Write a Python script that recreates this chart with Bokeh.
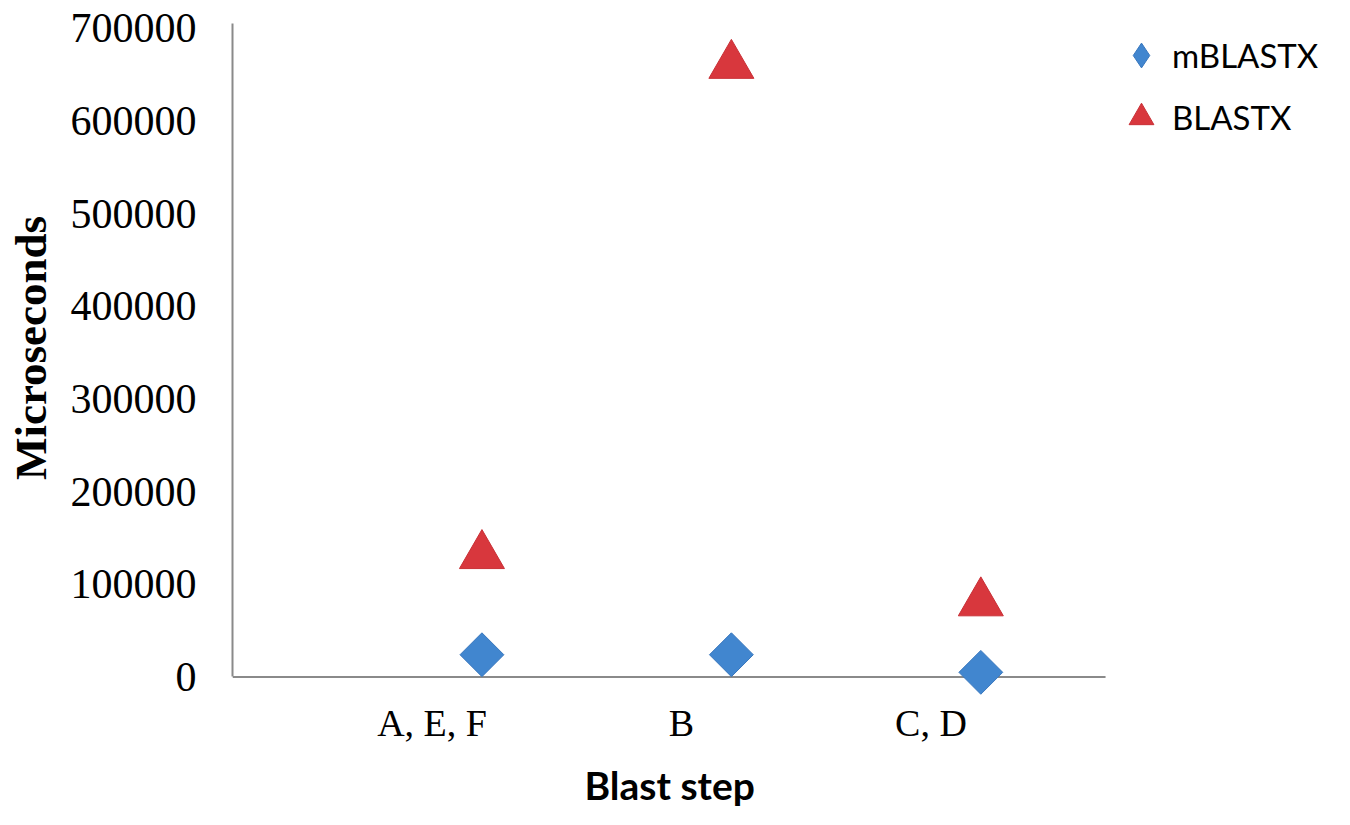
import numpy as np
from bokeh.plotting import figure
from bokeh.models import Range1d, FixedTicker, BasicTickFormatter, Legend, LegendItem, ColumnDataSource, Title
from bokeh.embed import file_html
from bokeh.resources import INLINE

# ---- data ----
categories = ["A, E, F", "B", "C, D"]
x_pos = [1, 2, 3]
mblastx = [24000, 24000, 5000]
blastx = [131000, 660000, 80000]
y_ticks = [0, 100000, 200000, 300000, 400000, 500000, 600000, 700000]
label_offset = -0.2  # Excel places category labels left of the points
x_axis_end = 3.5
y_axis_end = 700000

p = figure(width=1350, height=825, output_backend="svg", toolbar_location=None,
           x_range=Range1d(0, 4.482), y_range=Range1d(-20000, 730000),
           min_border_left=232, min_border_right=0, min_border_top=0, min_border_bottom=128)
p.grid.visible = False
p.outline_line_color = None

# horizontal axis line at zero (kept inside the frame so the markers can overlap it)
p.segment(x0=[0], y0=[0], x1=[x_axis_end], y1=[0], line_color="#8a8a8a", line_width=2)

src_m = ColumnDataSource(dict(x=x_pos, y=mblastx))
src_b = ColumnDataSource(dict(x=x_pos, y=blastx))

# diamond-shaped key glyph for the legend (fully covered by the rotated squares)
r_m_key = p.scatter("x", "y", source=src_m, marker="diamond", size=30,
                    fill_color="#4186cf", line_color="#3a78be", line_width=1)
r_m = p.scatter("x", "y", source=src_m, marker="square", angle=np.pi / 4, size=31,
                fill_color="#4186cf", line_color="#3a78be", line_width=1)
r_b = p.scatter("x", "y", source=src_b, marker="triangle", size=45,
                fill_color="#d8373d", line_color="#c93036", line_width=1)

# axes
xt = [x + label_offset for x in x_pos]
p.xaxis.ticker = FixedTicker(ticks=xt)
p.xaxis.major_label_overrides = {t: c for t, c in zip(xt, categories)}
p.xaxis.axis_line_color = None
p.yaxis.ticker = FixedTicker(ticks=y_ticks)
p.yaxis.formatter = BasicTickFormatter(use_scientific=False)
p.yaxis.bounds = (0, y_axis_end + 5000)
p.yaxis.axis_line_color = "#8a8a8a"
p.yaxis.axis_line_width = 2

for ax in (p.xaxis[0], p.yaxis[0]):
    ax.major_tick_line_color = None
    ax.minor_tick_line_color = None
    ax.major_label_text_font = "Liberation Serif"
    ax.major_label_text_color = "#000000"

p.yaxis.major_label_text_font_size = "42px"
p.xaxis.major_label_text_font_size = "38px"
p.yaxis.major_label_standoff = 30
p.xaxis.major_label_standoff = 0

p.yaxis.axis_label = "Microseconds"
p.yaxis.axis_label_text_font = "Liberation Serif"
p.yaxis.axis_label_text_font_style = "bold"
p.yaxis.axis_label_text_font_size = "45px"
p.yaxis.axis_label_text_color = "#000000"
p.yaxis.axis_label_standoff = 12

# x-axis title, centred under the drawn axis line
xtitle = Title(text="Blast step", align="left", offset=352, vertical_align="top",
               text_font="Lato", text_font_style="bold", text_font_size="39px",
               text_color="#000000", standoff=31)
p.add_layout(xtitle, "below")

legend = Legend(items=[LegendItem(label="mBLASTX", renderers=[r_m_key]),
                       LegendItem(label="BLASTX", renderers=[r_b])],
                location=(878, 547))
legend.border_line_color = None
legend.background_fill_alpha = 0
legend.padding = 0
legend.margin = 0
legend.spacing = 0
legend.glyph_width = 62
legend.glyph_height = 62
legend.label_standoff = 0
legend.label_text_font = "Lato"
legend.label_text_font_size = "33px"
legend.label_text_color = "#000000"
p.add_layout(legend, "center")

open("out.html", "w").write(file_html(p, INLINE))
